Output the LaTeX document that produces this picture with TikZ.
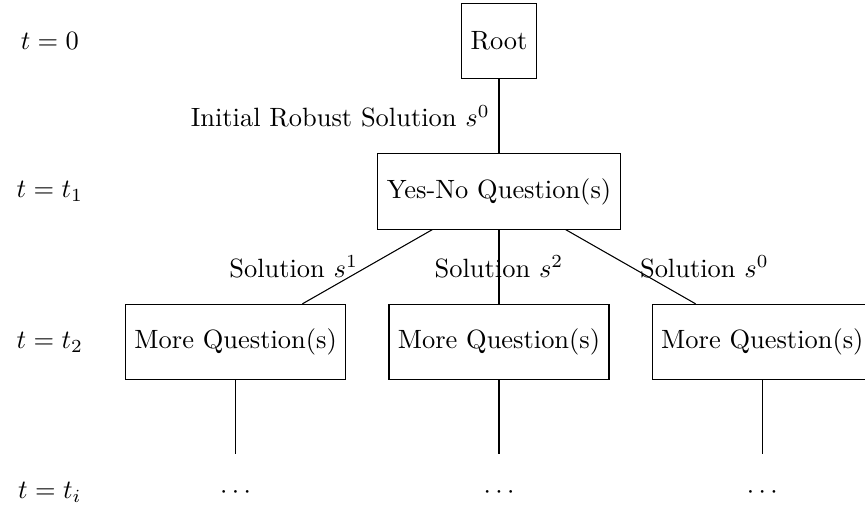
\documentclass[tikz,border=0pt]{standalone}
\usetikzlibrary{positioning}
\begin{document}
\begin{tikzpicture}[
  qbox/.style={draw, rectangle, minimum size=1cm},
  dotnode/.style={rectangle, minimum size=1cm},
  timelabel/.style={}
]
\clip (-6.632cm,0.545cm) rectangle (4.864cm,-6.207cm);
% tree nodes
\node[qbox] (root) at (0,0) {Root};
\node[qbox] (yn) at (0,-2) {Yes-No Question(s)};
\node[qbox] (m1) at (-3.5,-4) {More Question(s)};
\node[qbox] (m2) at (0,-4) {More Question(s)};
\node[qbox] (m3) at (3.5,-4) {More Question(s)};
\node[dotnode] (d1) at (-3.5,-6) {$\cdots$};
\node[dotnode] (d2) at (0,-6) {$\cdots$};
\node[dotnode] (d3) at (3.5,-6) {$\cdots$};
% time labels
\node[timelabel] (t0) at (-5.97,0) {$t=0$};
\node[timelabel] (t1) at (-5.97,-2) {$t=t_1$};
\node[timelabel] (t2) at (-5.97,-4) {$t=t_2$};
\node[timelabel] (ti) at (-5.97,-6) {$t=t_i$};
% edges
\draw (root) -- node[left] {Initial Robust Solution $s^0$} (yn);
\draw (yn) -- node[left] {Solution $s^1$} (m1);
\draw (yn) -- node {Solution $s^2$} (m2);
\draw (yn) -- node[right] {Solution $s^0$} (m3);
\draw (m1) -- (d1);
\draw (m2) -- (d2);
\draw (m3) -- (d3);
\end{tikzpicture}
\end{document}
